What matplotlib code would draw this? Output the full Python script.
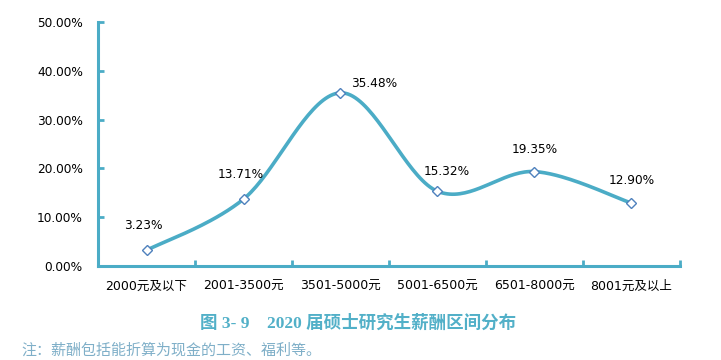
import numpy as np
import matplotlib
matplotlib.use('Agg')
import matplotlib.pyplot as plt

plt.rcParams['font.family'] = ['DejaVu Sans', 'Noto Sans CJK SC']

# data
categories = ['2000元及以下', '2001-3500元', '3501-5000元', '5001-6500元', '6501-8000元', '8001元及以上']
shares = [3.23, 13.71, 35.48, 15.32, 19.35, 12.90]
labels = ['3.23%', '13.71%', '35.48%', '15.32%', '19.35%', '12.90%']
yticks = [0, 10, 20, 30, 40, 50]

# label offsets in points (dx, dy)
offsets = [(-2, 18), (-2, 18), (24, 7), (7, 14), (0, 16), (0, 16)]

line_color = '#4BACC6'
marker_edge = '#4F81BD'

fig = plt.figure(figsize=(7.21, 3.6), dpi=100)
ax = fig.add_axes([0.136, 0.261, 0.807, 0.678])

# smoothed line (Catmull-Rom in screen-like units)
sx, sy = 97.0, 4.88
px = np.arange(len(shares)) * sx
py = np.array(shares) * sy
P = np.column_stack([px, py])
P_ext = np.vstack([P[0], P, P[-1]])
curve = []
t = np.linspace(0, 1, 40)
for i in range(len(P) - 1):
    p0, p1, p2, p3 = P_ext[i], P_ext[i + 1], P_ext[i + 2], P_ext[i + 3]
    c1 = p1 + (p2 - p0) / 6
    c2 = p2 - (p3 - p1) / 6
    seg = ((1 - t) ** 3)[:, None] * p1 + (3 * (1 - t) ** 2 * t)[:, None] * c1 \
        + (3 * (1 - t) * t ** 2)[:, None] * c2 + (t ** 3)[:, None] * p2
    curve.append(seg)
curve = np.vstack(curve)
ax.plot(curve[:, 0] / sx, curve[:, 1] / sy, color=line_color, lw=2.6, solid_capstyle='round', zorder=2)
ax.plot(range(len(shares)), shares, linestyle='none', marker='D', ms=5.5,
        markerfacecolor='white', markeredgecolor=marker_edge, markeredgewidth=1, zorder=3)

for i, (v, lab) in enumerate(zip(shares, labels)):
    dx, dy = offsets[i]
    ax.annotate(lab, (i, v), xytext=(dx, dy), textcoords='offset points',
                ha='center', va='center', fontsize=8.7, color='black')

ax.set_xlim(-0.5, len(categories) - 0.5)
ax.set_ylim(0, 50)
ax.set_yticks(yticks)
ax.set_yticklabels(['%.2f%%' % v for v in yticks], fontsize=8.7)
ax.set_xticks(range(len(categories)))
ax.set_xticklabels(categories, fontsize=9, family=['DejaVu Sans', 'Noto Sans CJK SC'])
ax.tick_params(axis='x', length=0, pad=10)
ax.set_xticks(np.arange(-0.5, len(categories)), minor=True)
ax.tick_params(axis='x', which='minor', direction='in', length=4, width=2, color=line_color)
ax.tick_params(axis='y', direction='in', length=4, width=2, color=line_color, pad=11)

for s in ['top', 'right']:
    ax.spines[s].set_visible(False)
for s in ['left', 'bottom']:
    ax.spines[s].set_color(line_color)
    ax.spines[s].set_linewidth(2.2)

fig.text(0.497, 0.103, '图 3- 9    2020 届硕士研究生薪酬区间分布', ha='center', va='center',
         fontsize=12.6, fontweight='bold', color='#52B0C8',
         family=['Liberation Serif', 'Noto Sans CJK SC'])
fig.text(0.03, 0.028, '注：薪酬包括能折算为现金的工资、福利等。', ha='left', va='center',
         fontsize=10.8, color='#7FAFC8', family=['Noto Sans CJK SC'])

fig.savefig('out.png', dpi=100)
